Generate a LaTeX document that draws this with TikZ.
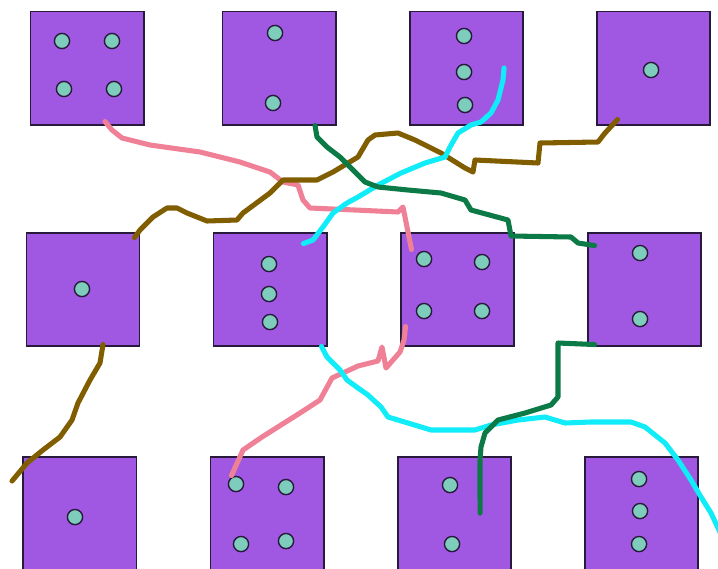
\documentclass[tikz,border=0pt]{standalone}
\usepackage{tikz}
\usetikzlibrary{positioning}
\usetikzlibrary{calc}
\definecolor{dieviolet}{RGB}{160,88,226}
\definecolor{dieedge}{RGB}{40,26,60}
\definecolor{pipteal}{RGB}{126,204,188}
\definecolor{wirepink}{RGB}{240,128,150}
\definecolor{wirebrown}{RGB}{128,94,0}
\definecolor{wirecyan}{RGB}{16,236,248}
\definecolor{wiregreen}{RGB}{12,122,70}
\tikzstyle{die} = [rectangle,draw=dieedge,fill=dieviolet,line width=1.4pt,minimum width=2.825cm,minimum height=2.825cm,inner sep=0pt]
\tikzstyle{pip} = [draw=dieedge,fill=pipteal,line width=1pt]
\newcommand{\DiePip}[3]{\draw[pip] ($(#1)+(#2,#3)$) circle (1.9mm);}

\begin{document}
\begin{tikzpicture}
	[x=0.025cm,y=-0.025cm,node distance=2.65cm and 1.8cm]
	\tikzstyle{wire}=[line width=3.6pt,line join=round,line cap=round];
	\clip (0,0) rectangle (718,568);
	\fill[white] (0,0) rectangle (718,568);
	
	\node (1) [die] at (87,68) {};
	\node (2) [die,right=of 1,xshift=0.125cm] {};
	\node (3) [die,right=of 2] {};
	\node (4) [die,right=of 3] {};
	\node (5) [die,below=of 1,xshift=-0.1cm] {};
	\node (6) [die,right=of 5] {};
	\node (7) [die,right=of 6] {};
	\node (8) [die,right=of 7] {};
	\node (9) [die,below=of 5,xshift=-0.075cm,yshift=-0.075cm] {};
	\node (10) [die,right=of 9] {};
	\node (11) [die,right=of 10] {};
	\node (12) [die,right=of 11] {};
	
	% pips
	\DiePip{1}{-25}{-27} \DiePip{1}{25}{-27} \DiePip{1}{-23}{21} \DiePip{1}{27}{21}
	\DiePip{2}{-4}{-35} \DiePip{2}{-6}{35}
	\DiePip{3}{-2}{-32} \DiePip{3}{-2}{4} \DiePip{3}{-1}{37}
	\DiePip{4}{-2}{2}
	\DiePip{5}{-1}{0}
	\DiePip{6}{-1}{-25} \DiePip{6}{-1}{5} \DiePip{6}{0}{33}
	\DiePip{7}{-33}{-30} \DiePip{7}{25}{-27} \DiePip{7}{-33}{22} \DiePip{7}{25}{22}
	\DiePip{8}{-4}{-36} \DiePip{8}{-4}{30}
	\DiePip{9}{-5}{4}
	\DiePip{10}{-31}{-29} \DiePip{10}{19}{-26} \DiePip{10}{-26}{31} \DiePip{10}{19}{28}
	\DiePip{11}{-4}{-28} \DiePip{11}{-2}{31}
	\DiePip{12}{-2}{-34} \DiePip{12}{-1}{-2} \DiePip{12}{-2}{31}
	
	\coordinate (brownend) at (12,481);
	\coordinate (cyanend) at (726,545);
	
	% pink
	\draw[wire,wirepink] ([xshift=0.45cm,yshift=0.1cm]1.south) -- (112,130) -- (122,138) -- (150,145) -- (200,152)
		-- (240,162) -- (270,172) -- (283,182) -- (298,185) -- (303,200) -- (310,208) -- (355,210)
		-- (398,212) -- (403,207) -- ([xshift=0.3cm,yshift=-0.45cm]7.north west);
	\draw[wire,wirepink] ([xshift=0.55cm,yshift=-0.5cm]10.north west) -- (243,450) -- (262,437) -- (300,413)
		-- (320,400) -- (332,378) -- (358,366) -- (378,361) -- (382,347) -- (386,368) -- (400,352)
		-- (404,340) -- ([xshift=0.15cm,yshift=0.5cm]7.south west);
	% brown
	\draw[wire,wirebrown] ([xshift=0.55cm,yshift=0.15cm]4.south west) -- (605,133) -- (598,142) -- (540,143)
		-- (538,163) -- (475,160) -- (473,172) -- (465,168) -- (441,153) -- (415,140) -- (398,133)
		-- (375,135) -- (368,140) -- (358,157) -- (333,172) -- (317,180) -- (283,180) -- (270,193)
		-- (243,213) -- (237,220) -- (207,221) -- (187,213) -- (177,208) -- (167,208) -- (153,217)
		-- (140,230) -- ([xshift=-0.15cm,yshift=-0.15cm]5.north east);
	\draw[wire,wirebrown] ([xshift=0.5cm,yshift=0.05cm]5.south) -- (100,363) -- (90,380) -- (78,403)
		-- (72,420) -- (60,437) -- (43,450) -- (27,463) -- (brownend);
	% cyan
	\draw[wire,wirecyan] ([xshift=0.95cm]3.center) -- (503,80) -- (498,100) -- (491,113) -- (481,122)
		-- (471,125) -- (458,133) -- (450,147) -- (445,157) -- (425,163) -- (401,173) -- (378,185)
		-- (358,197) -- (347,203) -- (333,213) -- (323,227) -- (313,240) -- ([xshift=-0.6cm,yshift=-0.3cm]6.north east);
	\draw[wire,wirecyan] ([xshift=-0.15cm]6.south east) -- (327,357) -- (340,370) -- (347,380) -- (358,388)
		-- (368,395) -- (381,407) -- (388,417) -- (408,423) -- (431,430) -- (475,430) -- (491,425)
		-- (518,420) -- (545,417) -- (565,423) -- (591,422) -- (631,422) -- (645,427) -- (665,443)
		-- (678,460) -- (691,480) -- (701,497) -- (711,513) -- (cyanend);
	% green
	\draw[wire,wiregreen] ([xshift=0.9cm]2.south) -- (317,137) -- (327,147) -- (340,157) -- (353,170)
		-- (365,182) -- (378,187) -- (408,190) -- (441,193) -- (465,200) -- (471,210) -- (508,220)
		-- (511,236) -- (571,237) -- (578,243) -- ([xshift=0.2cm,yshift=-0.35cm]8.north west);
	\draw[wire,wiregreen] ([xshift=0.2cm,yshift=0.05cm]8.south west) -- (558,343) -- (558,397) -- (551,405)
		-- (525,413) -- (498,420) -- (485,433) -- (481,447) -- (480,460) -- ([xshift=0.65cm]11.center);
\end{tikzpicture}
\end{document}
